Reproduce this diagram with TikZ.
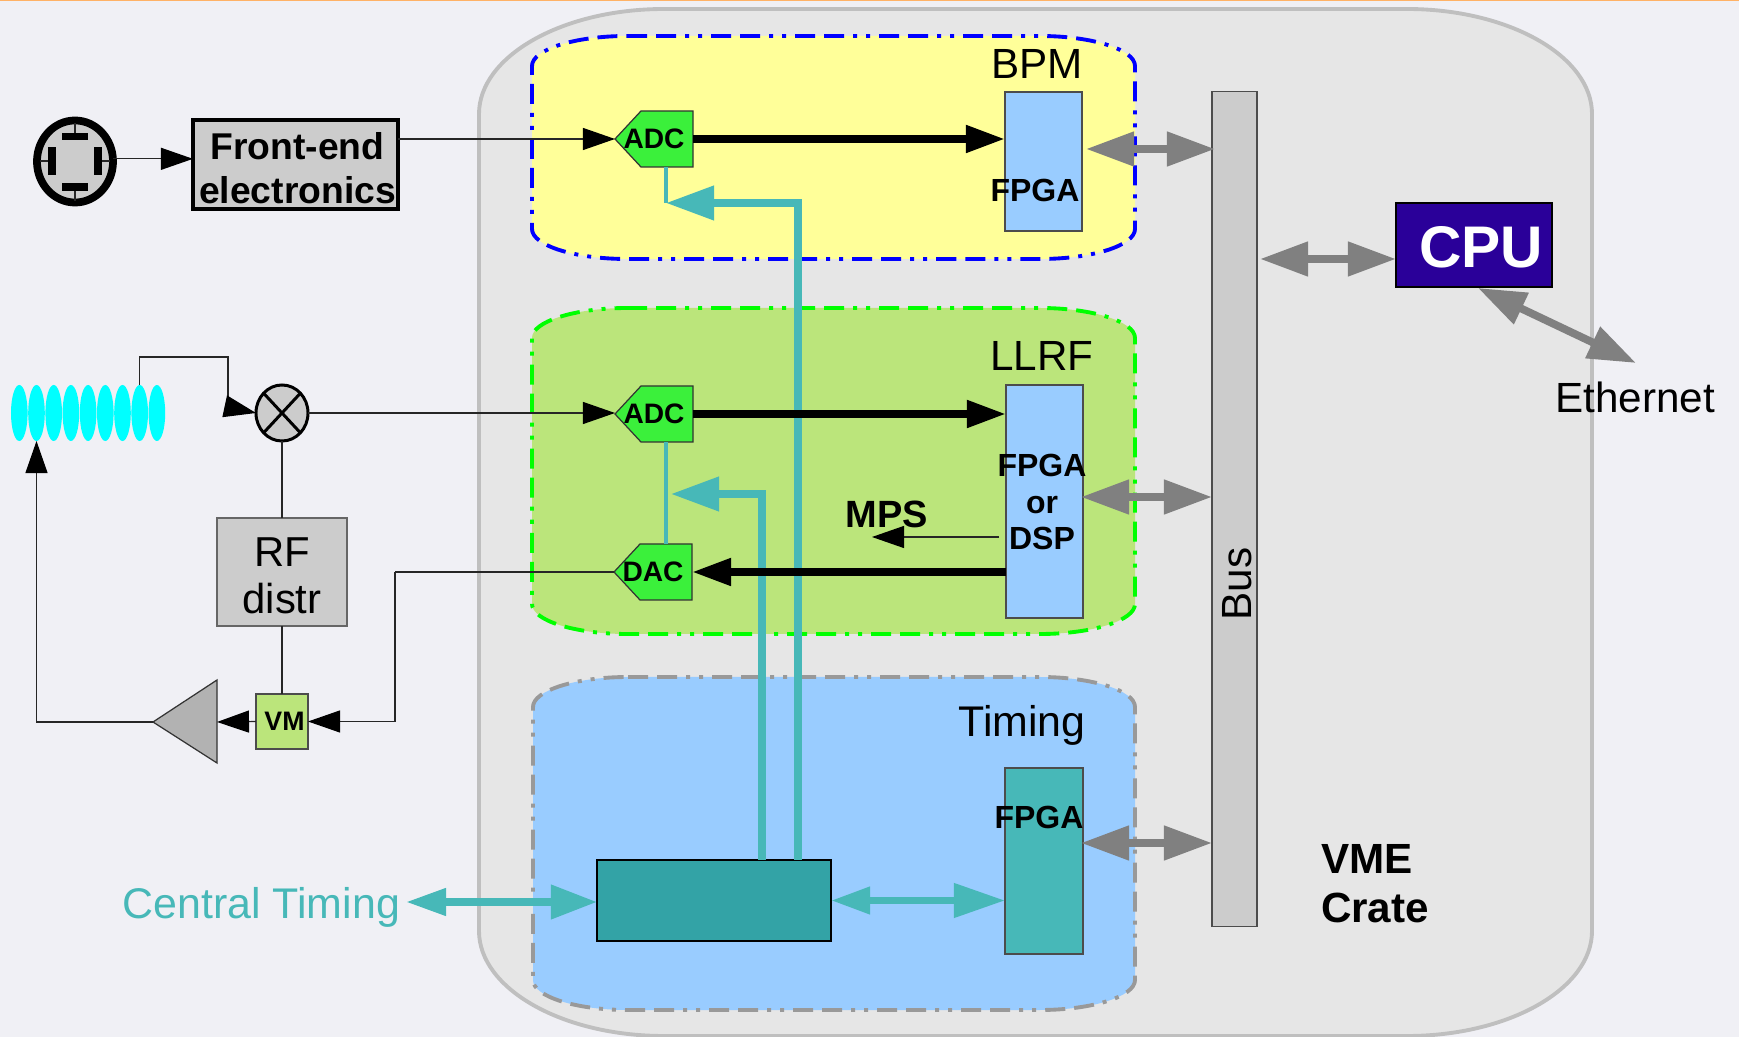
\documentclass[tikz,border=0pt]{standalone}
\usepackage{fontspec}
\setmainfont{Liberation Sans}
\usepackage{xcolor}
\usetikzlibrary{arrows.meta,shapes.geometric}
\definecolor{pagebg}{HTML}{F0F0F5}
\definecolor{crategr}{HTML}{E6E6E6}
\definecolor{crateln}{HTML}{BFBFBF}
\definecolor{bpmyel}{HTML}{FFFF99}
\definecolor{llrfgr}{HTML}{BBE57B}
\definecolor{skyblu}{HTML}{99CCFF}
\definecolor{tealln}{HTML}{47B8B8}
\definecolor{tealdk}{HTML}{33A3A6}
\definecolor{convgr}{HTML}{3BF03B}
\definecolor{cpublu}{HTML}{2A0099}
\definecolor{cavcy}{HTML}{00FFFF}
\definecolor{topor}{HTML}{FFB266}
\definecolor{regbl}{HTML}{0000FF}
\definecolor{reggr}{HTML}{00FF00}
\tikzset{
  sig/.style={draw=black!85,line width=.32pt,-{Triangle[length=3.2mm,width=2.2mm,color=black]}},
  wire/.style={draw=black!85,line width=.32pt},
  fat/.style={line width=2.2pt,-{Triangle[length=3.9mm,width=2.6mm]}},
  tm/.style={draw=tealln,line width=2.1pt},
  tmhead/.style={tm,-{Triangle[length=4.8mm,width=3.3mm]}},
  gr/.style={draw=black!50,line width=2.2pt,{Triangle[length=4.8mm,width=3.3mm]}-{Triangle[length=4.8mm,width=3.3mm]}},
  reg/.style={line width=1.1pt,dash pattern=on 2mm off .9mm on 2mm off .9mm on .4mm off .9mm on .4mm off .9mm},
  block/.style={rectangle,draw=black!70,line width=.4pt,inner sep=0pt,outer sep=0pt,align=center},
  txt/.style={inner sep=0pt,outer sep=0pt,align=center},
  conv/.style={draw=black!80,fill=convgr,line width=.35pt}
}
\newcommand{\sz}[2]{\fontsize{#1}{#2}\selectfont}
\newcommand{\softbox}[7]{\draw[#1] (#2+#6,#3) -- (#4-#6,#3) .. controls (#4-.45*#6,#3) and (#4,#3+.45*#7) .. (#4,#3+#7) -- (#4,#5-#7) .. controls (#4,#5-.45*#7) and (#4-.45*#6,#5) .. (#4-#6,#5) -- (#2+#6,#5) .. controls (#2+.45*#6,#5) and (#2,#5-.45*#7) .. (#2,#5-#7) -- (#2,#3+#7) .. controls (#2,#3+.45*#7) and (#2+.45*#6,#3) .. (#2+#6,#3) -- cycle;}
\newcommand{\convbox}[4]{\draw[conv] (#2,#3) -- (#2+26,#3-28) -- (#2+78,#3-28) -- (#2+78,#3+28) -- (#2+26,#3+28) -- cycle;
  \node[txt,minimum width=.78cm,minimum height=.56cm,font=\sz{8}{9}\bfseries] (#1) at (#2+39,#3) {#4};}

\begin{document}
\begin{tikzpicture}[x=.01cm,y=-.01cm]
\useasboundingbox (0,0) rectangle (1739,1037);
\fill[pagebg] (0,0) rectangle (1739,1037);
\draw[topor,line width=.4pt] (0,0.5) -- (1739,0.5);
\softbox{draw=crateln,fill=crategr,line width=1.1pt}{479}{9}{1592}{1036}{185}{105}
\softbox{reg,draw=regbl,fill=bpmyel}{532}{36}{1135}{259}{95}{30}
\softbox{reg,draw=reggr,fill=llrfgr}{532}{308}{1135}{634}{95}{30}
\softbox{reg,draw=black!40,fill=skyblu}{533}{677}{1135}{1010}{95}{30}
\node[txt,font=\sz{12}{14}] (bpmlab) at (1037,64) {BPM};
\node[txt,font=\sz{12}{14}] (llrflab) at (1042,356) {LLRF};
\node[txt,font=\sz{12.2}{14}] (timelab) at (1022,725) {Timing};

\node[block,fill=skyblu,minimum width=.77cm,minimum height=1.39cm] (bpmF) at (1043.5,161.5) {};
\node[block,fill=skyblu,minimum width=.77cm,minimum height=2.33cm] (llrfF) at (1044.5,501.5) {};
\node[block,fill=tealln,minimum width=.78cm,minimum height=1.86cm] (timeF) at (1044,861) {};
\node[block,fill=tealdk,draw=black,minimum width=2.34cm,minimum height=.81cm] (clk) at (714,900.5) {};
\node[block,fill=black!20,minimum width=.45cm,minimum height=8.34cm] (bus) at (1234.5,509) {};
\node[txt,rotate=90,font=\sz{12}{14}] (buslab) at (1237,584) {Bus};

\coordinate (tapA) at (798,203);
\coordinate (tipA) at (666,203);
\coordinate (tapB) at (762,494);
\coordinate (tipB) at (671,494);
\draw[tmhead] (tapA |- clk.north) -- (tapA) -- (tipA);
\draw[tmhead] (tapB |- clk.north) -- (tapB) -- (tipB);

\convbox{adcA}{615}{139}{ADC}
\convbox{adcB}{615}{414}{ADC}
\convbox{dac}{614}{572}{DAC}
\draw[tm,line width=1pt] (tipA |- adcA.south) -- (tipA);
\draw[tm,line width=1pt] (tipA |- adcB.south) -- (tipA |- dac.north);

\draw[fat] (adcA.east) -- (adcA.east -| bpmF.west);
\draw[fat] (adcB.east) -- (adcB.east -| llrfF.west);
\draw[fat] (dac.east -| llrfF.west) -- (dac.east);
\coordinate (mpsin) at (999,537);
\coordinate (mpsout) at (872,537);
\draw[sig] (mpsin) -- (mpsout);

\node[txt,font=\sz{9.1}{10.5}\bfseries] (bpmFlab) at (1035,190) {FPGA};
\node[txt,font=\sz{9.1}{10.5}\bfseries] (llrfFlab) at (1042,502) {FPGA\\or\\DSP};
\node[txt,font=\sz{9.1}{10.5}\bfseries] (timeFlab) at (1039,817) {FPGA};
\node[txt,font=\sz{10.8}{12}\bfseries] (mpslab) at (887,514) {MPS};

\coordinate (grA) at (1086,149);
\coordinate (grB) at (1081,497);
\coordinate (grC) at (1081,843);
\draw[gr] (grA) -- ([xshift=.03cm]grA -| bus.west);
\draw[gr] (grB) -- (grB -| bus.west);
\draw[gr] (grC) -- (grC -| bus.west);

\node[block,draw=black,fill=cpublu,minimum width=1.56cm,minimum height=.84cm] (cpu) at (1474,245) {};
\node[txt,text=white,font=\sz{16.7}{18}\bfseries] (cpulab) at (1481,247) {CPU};
\coordinate (busP) at (1260,259);
\draw[gr] (busP) -- (busP -| cpu.west);
\coordinate (cpuP) at (1478,288);
\coordinate (ethP) at (1636,363);
\draw[gr] (cpuP) -- (ethP);
\node[txt,font=\sz{12}{14}] (eth) at (1635,397) {Ethernet};
\node[txt,align=left,anchor=north west,font=\sz{12}{14.2}\bfseries] (vme) at (1321,844) {VME\\Crate};

\draw[tm,{Triangle[length=3.9mm,width=2.6mm]}-{Triangle[length=5.1mm,width=3.3mm]}] (clk.east) -- (clk.east -| timeF.west);
\coordinate (ctP) at (406,902);
\draw[tm,{Triangle[length=4mm,width=2.6mm]}-{Triangle[length=4.6mm,width=3.3mm]}] (ctP) -- (ctP -| clk.west);
\node[txt,text=tealln,font=\sz{12.2}{15},anchor=east] (ctlab) at (400,907) {Central Timing};

\node[ellipse,draw=black,fill=black!20,line width=2.2pt,inner sep=0pt,outer sep=0pt,minimum width=.76cm,minimum height=.82cm] (pickup) at (75,161.5) {};
\fill (62,133) rectangle (88,140);
\fill (62,183) rectangle (88,191);
\fill (48,147) rectangle (56,175);
\fill (94,147) rectangle (102,175);
\draw[wire] (75,123) -- (75,133);
\draw[wire] (75,191) -- (75,201);
\draw[wire] (40,161) -- (48,161);
\draw[wire] (102,161) -- (110,161);
\node[block,draw=black,line width=1.1pt,fill=black!20,minimum width=2.05cm,minimum height=.885cm] (front) at (295.5,164.7) {};
\node[txt,font=\sz{10.6}{12.5}\bfseries] (frontlab) at (297.5,168) {Front-end\\electronics};
\draw[sig] (pickup.4) -- (pickup.4 -| front.west);
\draw[sig] (adcA.west -| front.east) -- (adcA.west);

\foreach \i in {0,...,8}
  \node[ellipse,fill=cavcy,inner sep=0pt,outer sep=0pt,minimum width=.166cm,minimum height=.56cm] (cav\i) at ({19.3+17.2*\i},413) {};
\node[ellipse,draw=black,fill=black!20,line width=.85pt,inner sep=0pt,outer sep=0pt,minimum width=.52cm,minimum height=.56cm] (mixer) at (282,413) {};
\draw[line width=.85pt] (mixer.north west) -- (mixer.south east);
\draw[line width=.85pt] (mixer.north east) -- (mixer.south west);
\node[block,draw=black!60,fill=black!20,minimum width=1.30cm,minimum height=1.08cm] (rf) at (282,572) {};
\node[txt,font=\sz{11.9}{13.3}] (rflab) at (282,576) {RF\\distr};
\node[block,fill=llrfgr,minimum width=.52cm,minimum height=.55cm] (vm) at (282,721.5) {};
\node[txt,font=\sz{7.6}{9}\bfseries] (vmlab) at (284.5,721.5) {VM};
\coordinate (ampT) at (153,722);
\coordinate (ampB) at (217,722);
\draw[draw=black!80,fill=black!30,line width=.35pt] (ampT) -- (217,680) -- (217,763) -- cycle;

\coordinate (bend) at (228,357);
\coordinate (bendin) at (228,407);
\draw[wire] (cav7.north) |- (bend) -- (bendin);
\draw[sig] (bendin) -- (mixer.west);
\draw[sig] (mixer.east) -- (mixer.east -| adcB.west);
\draw[wire] (mixer.south) -- (rf.north);
\draw[wire] (rf.south) -- (vm.north);
\draw[sig] (vm.west) -- (ampB);
\draw[sig] (ampT) -| (cav1.south);
\coordinate (turnA) at (395,572);
\draw[wire] (dac.west) -- (turnA);
\draw[sig] (turnA) |- (vm.east);
\end{tikzpicture}
\end{document}
